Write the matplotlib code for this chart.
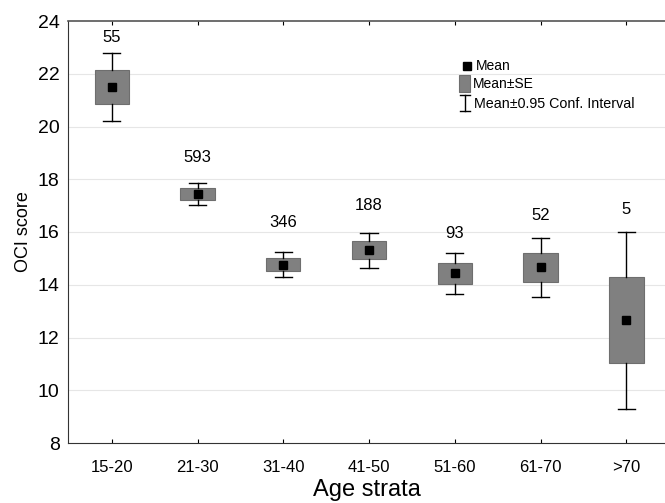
import matplotlib
matplotlib.use("Agg")
import matplotlib.pyplot as plt
from matplotlib.patches import Rectangle
from matplotlib.lines import Line2D

categories = ["15-20", "21-30", "31-40", "41-50", "51-60", "61-70", ">70"]
means = [21.49, 17.44, 14.75, 15.30, 14.43, 14.66, 12.65]
se_low = [20.85, 17.21, 14.52, 14.96, 14.04, 14.10, 11.03]
se_high = [22.14, 17.66, 15.00, 15.65, 14.82, 15.22, 14.28]
ci_low = [20.20, 17.04, 14.28, 14.63, 13.66, 13.54, 9.29]
ci_high = [22.79, 17.87, 15.25, 15.97, 15.21, 15.78, 16.01]
n_labels = ["55", "593", "346", "188", "93", "52", "5"]
n_label_y = [23.39, 18.84, 16.37, 17.02, 15.95, 16.64, 16.86]
yticks = [8, 10, 12, 14, 16, 18, 20, 22, 24]

plt.rcParams['font.family'] = ['Liberation Sans', 'DejaVu Sans']

fig = plt.figure(figsize=(6.65, 5.03), dpi=100)
ax = fig.add_axes([68/665, 1-443/503, (665-68)/665, (443-21)/503])

box_w = 0.4
cap_w = 0.2
box_face = "#808080"
box_edge = "#6e6e6e"

for i in range(len(categories)):
    ax.add_patch(Rectangle((i - box_w/2, se_low[i]), box_w, se_high[i]-se_low[i],
                           facecolor=box_face, edgecolor=box_edge, lw=0.8, zorder=2))
    ax.plot([i, i], [se_high[i], ci_high[i]], color="black", lw=1.0, zorder=2)
    ax.plot([i, i], [ci_low[i], se_low[i]], color="black", lw=1.0, zorder=2)
    ax.plot([i-cap_w/2, i+cap_w/2], [ci_high[i]]*2, color="black", lw=1.0, zorder=2)
    ax.plot([i-cap_w/2, i+cap_w/2], [ci_low[i]]*2, color="black", lw=1.0, zorder=2)
    ax.text(i, n_label_y[i], n_labels[i], ha="center", va="center", fontsize=12)

ax.plot(range(len(categories)), means, linestyle="none", marker="s", markersize=6,
        color="black", zorder=3)

ax.set_xlim(-0.51, 6.45)
ax.set_ylim(8, 24)
ax.set_yticks(yticks)
ax.set_xticks(range(len(categories)))
ax.set_xticklabels(categories)
ax.tick_params(axis="y", length=0, labelsize=14, pad=6)
ax.tick_params(axis="x", direction="in", length=3, labelsize=12, pad=12, top=True)
for y in yticks[1:-1]:
    ax.axhline(y, color="#e6e6e6", lw=0.8, zorder=0)
ax.spines["right"].set_visible(False)
ax.spines["top"].set_color("#555555")
ax.spines["top"].set_linewidth(1.2)
ax.spines["left"].set_color("#333333")
ax.spines["bottom"].set_color("#333333")
ax.set_ylabel("OCI score", fontsize=13, labelpad=4)
ax.set_xlabel("Age strata", fontsize=17, labelpad=3)

# legend (figure coordinates)
def fx(px):
    return px / 665
def fy(py):
    return 1 - py / 503

fig.add_artist(Line2D([fx(467)], [fy(66)], marker="s", markersize=5.5, color="black",
                      linestyle="none", transform=fig.transFigure))
fig.text(fx(476), fy(66), "Mean", fontsize=10, va="center", ha="left")
fig.add_artist(Rectangle((fx(459), fy(92)), fx(11), 17/503, facecolor=box_face,
                         edgecolor=box_edge, lw=0.8, transform=fig.transFigure))
fig.text(fx(473), fy(84), "Mean\u00b1SE", fontsize=10, va="center", ha="left")
fig.add_artist(Line2D([fx(465), fx(465)], [fy(95), fy(111)], color="black", lw=1.0,
                      transform=fig.transFigure))
fig.add_artist(Line2D([fx(460), fx(470)], [fy(95), fy(95)], color="black", lw=1.0,
                      transform=fig.transFigure))
fig.add_artist(Line2D([fx(460), fx(470)], [fy(111), fy(111)], color="black", lw=1.0,
                      transform=fig.transFigure))
fig.text(fx(474), fy(104), "Mean\u00b10.95 Conf. Interval", fontsize=10.3, va="center", ha="left")

fig.savefig("out.png", dpi=100)
